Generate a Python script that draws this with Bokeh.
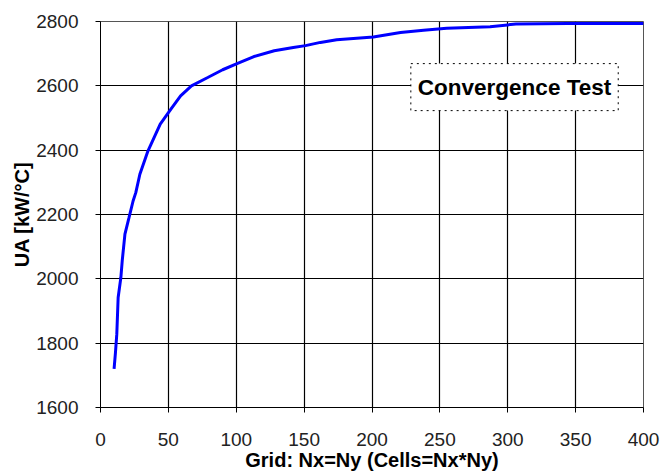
from bokeh.plotting import figure
from bokeh.models import Label, Range1d, FixedTicker
from bokeh.embed import file_html
from bokeh.resources import INLINE

nx = [10, 11, 12, 13, 15, 16, 18, 21, 24, 26, 29, 35, 44, 52, 59, 67, 79, 90,
      101, 113, 128, 142, 151, 162, 174, 201, 221, 238, 255, 287, 306, 344, 400]
ua = [1720, 1770, 1828, 1942, 2004, 2056, 2139, 2190, 2242, 2268, 2325, 2398,
      2481, 2528, 2569, 2600, 2626, 2650, 2670, 2691, 2709, 2719, 2725, 2735,
      2743, 2752, 2766, 2773, 2779, 2784, 2792, 2794, 2794]
x_ticks = [0, 50, 100, 150, 200, 250, 300, 350, 400]
y_ticks = [1600, 1800, 2000, 2200, 2400, 2600, 2800]
title_text = "Convergence Test"
x_label = "Grid: Nx=Ny (Cells=Nx*Ny)"
y_label = "UA [kW/°C]"

FONT = "Liberation Sans"

p = figure(width=661, height=475, output_backend="svg", toolbar_location=None,
           x_range=Range1d(0, 400), y_range=Range1d(1600, 2800),
           min_border_left=100, min_border_right=18, min_border_top=21,
           min_border_bottom=68)
p.background_fill_color = "white"
p.border_fill_color = "white"
p.outline_line_color = "#555555"
p.outline_line_width = 1

p.line(nx, ua, line_color="#0000FF", line_width=3)

for ax, ticks in ((p.xaxis, x_ticks), (p.yaxis, y_ticks)):
    ax.ticker = FixedTicker(ticks=ticks)
    ax.minor_tick_line_color = None
    ax.major_tick_in = 0
    ax.major_tick_out = 5
    ax.major_tick_line_color = "black"
    ax.axis_line_color = "black"
    ax.major_label_text_font = FONT
    ax.major_label_text_font_size = "19px"
    ax.major_label_text_color = "#222222"
    ax.axis_label_text_font = FONT
    ax.axis_label_text_font_style = "bold"
    ax.axis_label_text_font_size = "20px"
    ax.axis_label_text_color = "black"

p.xaxis.major_label_standoff = 20
p.xaxis.axis_label_standoff = 0
p.yaxis.major_label_standoff = 17
p.yaxis.axis_label_standoff = 0
p.xaxis.axis_label = x_label
p.yaxis.axis_label = y_label

p.xgrid.ticker = FixedTicker(ticks=x_ticks)
p.ygrid.ticker = FixedTicker(ticks=y_ticks)
p.grid.grid_line_color = "black"
p.grid.grid_line_width = 1.2

lbl = Label(x=305, y=2596, text=title_text, text_align="center",
            text_baseline="middle", text_font=FONT, text_font_style="bold",
            text_font_size="22.5px", text_color="black",
            background_fill_color="white", border_line_color="black",
            border_line_dash="dotted", border_line_width=1,
            padding=dict(left=7, right=7, top=11, bottom=11))
p.add_layout(lbl)

open("out.html", "w").write(file_html(p, INLINE))
